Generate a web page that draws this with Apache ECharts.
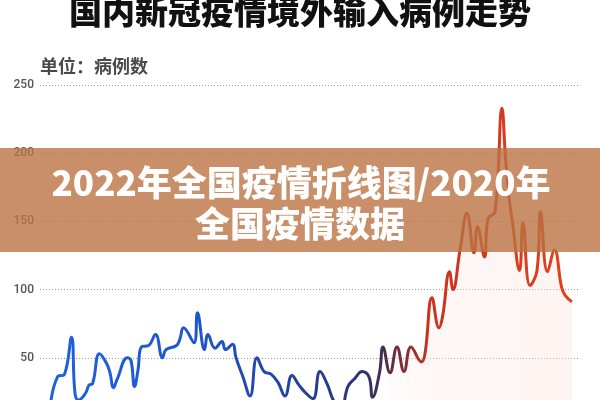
<!DOCTYPE html>
<html>
<head>
<meta charset="utf-8">
<script src="https://cdn.jsdelivr.net/npm/echarts@6/dist/echarts.min.js"></script>
<style>html,body{margin:0;padding:0;background:#fff}#c{width:600px;height:400px}</style>
</head>
<body>
<div id="c"></div>
<script>
// day index along the period shown
const days = [3,5,7,9,10,11,13,14,15,17,19,20,21,22,25,26,27,28,29,31,33,35,36,39,40,41,44,45,47,48,50,52,53,55,56,58,60,62,64,66,68,70,72,74,76,78,80,82,84,86,88,90,92,94,95,97,98,100,102,104,106,109,110,112,114,115,117,118,120,122,124,125,127,128,130,132,133,134,135,137,138,140,142,143,145,147,149,150,152];
// imported cases
const cases = [16,36,38,65,24,19,24,30,31,53,46,39,28,34,50,48,29,41,58,59,67,50,56,59,64,72,61,83,56,67,57,62,56,60,50,36,22,50,40,38,32,22,37,30,24,20,40,31,18,13,29,35,40,36,21,39,58,39,58,40,58,47,53,94,72,80,113,100,129,156,127,146,124,152,157,233,197,168,149,114,149,103,114,157,113,129,102,96,91];
const yTicks = [0,50,100,150,200,250];
const titleText = '国内新冠疫情境外输入病例走势';
const unitText = '单位：病例数';
const bannerLine1 = '2022年全国疫情折线图/2020年';
const bannerLine2 = '全国疫情数据';

const seriesData = days.map((d,i)=>[d,cases[i]]);
const chart = echarts.init(document.getElementById('c'));
const cjk = '"Noto Sans CJK SC", "Noto Sans", sans-serif';
chart.setOption({
  animation:false,
  backgroundColor:'#fff',
  grid:{left:40,right:21,top:85,bottom:-26,outerBoundsMode:'none',containLabel:false},
  xAxis:{type:'value',min:0,max:154,show:false},
  yAxis:{type:'value',min:yTicks[0],max:yTicks[yTicks.length-1],interval:50,
    axisLine:{show:false},axisTick:{show:false},
    axisLabel:{color:'#555',fontSize:12,margin:6,fontFamily:'Roboto, sans-serif',fontWeight:500},
    splitLine:{lineStyle:{type:[1,2],color:'#9a9a9a',width:1}}},
  series:[{
    type:'line',data:seriesData,smooth:0.45,symbol:'none',
    lineStyle:{width:3,color:new echarts.graphic.LinearGradient(0,0,1,0,[
      {offset:0,color:'#1d62dd'},{offset:0.29,color:'#1e55cc'},{offset:0.48,color:'#263f98'},
      {offset:0.6,color:'#2e3470'},{offset:0.64,color:'#4a2c50'},{offset:0.68,color:'#8a2c35'},
      {offset:0.72,color:'#c8321f'},{offset:1,color:'#e0431c'}])},
    areaStyle:{origin:'start',color:new echarts.graphic.LinearGradient(0,0,1,0,[
      {offset:0,color:'rgba(253,232,226,0)'},{offset:0.62,color:'rgba(253,232,226,0)'},
      {offset:0.72,color:'rgba(253,234,229,0.5)'},{offset:1,color:'rgba(253,232,227,0.65)'}])},
    z:2
  }],
  graphic:[
    {type:'text',left:'center',top:-5,z:10,style:{text:titleText,font:'900 33px '+cjk,fill:'#111'}},
    {type:'text',left:40,top:57,z:10,style:{text:unitText,font:'bold 18px '+cjk,fill:'#4a4a4a'}},
    {type:'rect',shape:{x:0,y:148,width:600,height:104},z:20,style:{fill:'rgba(186,115,66,0.8)'}},
    {type:'text',x:301,y:183,z:21,style:{text:bannerLine1,font:'900 35px '+cjk,fill:'#fff',align:'center',verticalAlign:'middle'}},
    {type:'text',x:300,y:224,z:21,style:{text:bannerLine2,font:'900 35px '+cjk,fill:'#fff',align:'center',verticalAlign:'middle'}}
  ]
});
</script>
</body>
</html>
